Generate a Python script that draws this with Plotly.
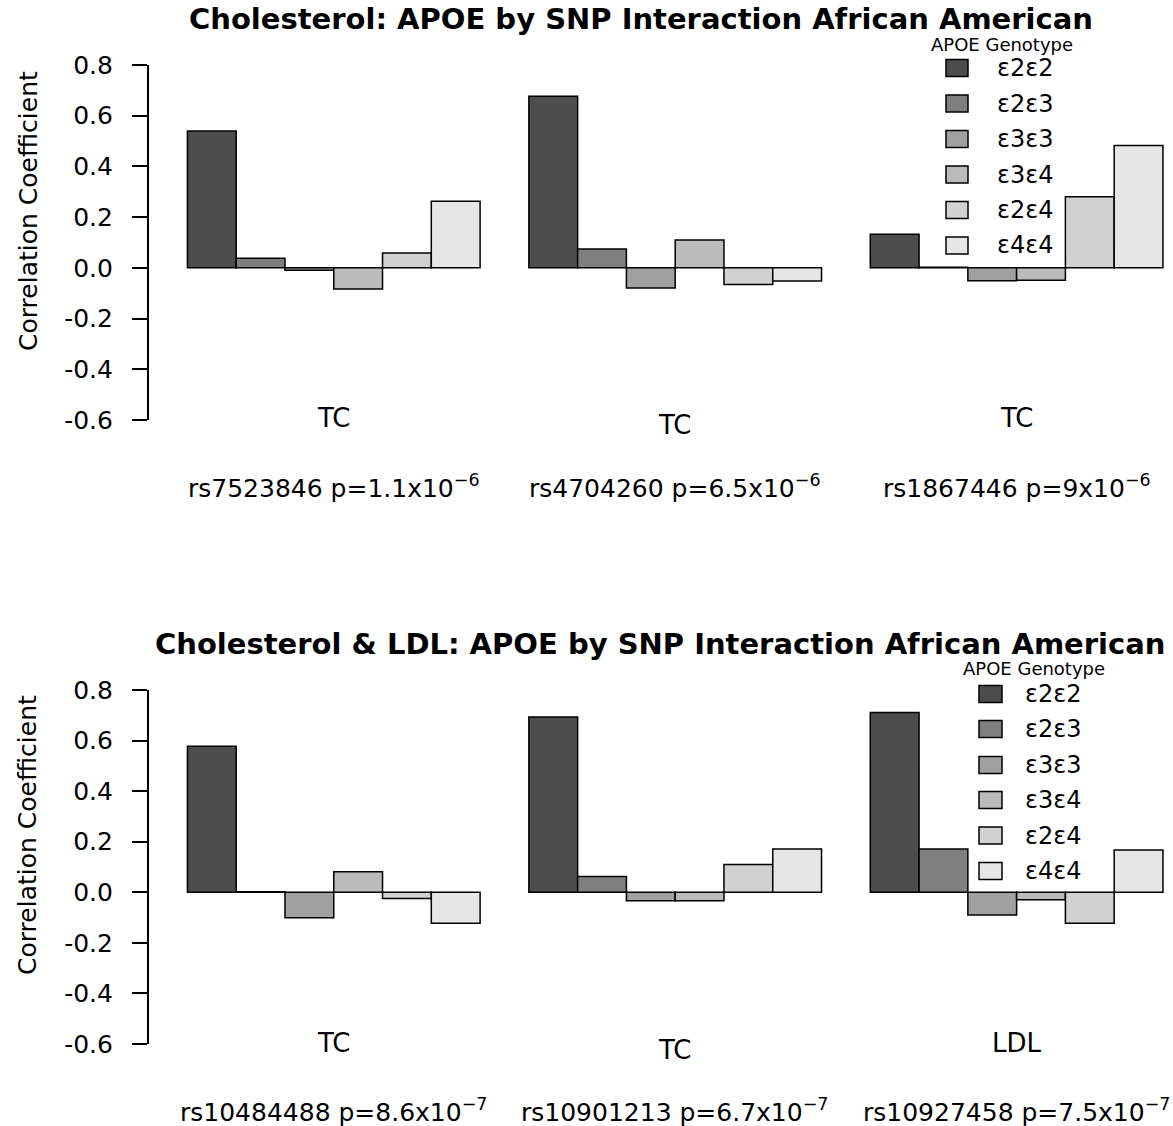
import plotly.graph_objects as go

W, H = 1173, 1126
FONT = "DejaVu Sans, Liberation Sans, Arial, sans-serif"

# ---------------- data ----------------
genotypes = ["ε2ε2", "ε2ε3", "ε3ε3", "ε3ε4", "ε2ε4", "ε4ε4"]
grey_fills = ["#4D4D4D", "#7F7F7F", "#A0A0A0", "#BBBBBB", "#D1D1D1", "#E6E6E6"]

top_title = "Cholesterol: APOE by SNP Interaction African American"
top_snps = ["rs7523846", "rs4704260", "rs1867446"]
top_traits = ["TC", "TC", "TC"]
top_pmant = ["1.1", "6.5", "9"]
top_pexp = ["−6", "−6", "−6"]
top_e2e2 = [0.540, 0.677, 0.133]
top_e2e3 = [0.038, 0.074, 0.002]
top_e3e3 = [-0.009, -0.079, -0.051]
top_e3e4 = [-0.083, 0.110, -0.049]
top_e2e4 = [0.059, -0.066, 0.280]
top_e4e4 = [0.263, -0.052, 0.483]

bot_title = "Cholesterol & LDL: APOE by SNP Interaction African American"
bot_snps = ["rs10484488", "rs10901213", "rs10927458"]
bot_traits = ["TC", "TC", "LDL"]
bot_pmant = ["8.6", "6.7", "7.5"]
bot_pexp = ["−7", "−7", "−7"]
bot_e2e2 = [0.578, 0.693, 0.711]
bot_e2e3 = [0.002, 0.062, 0.171]
bot_e3e3 = [-0.101, -0.033, -0.090]
bot_e3e4 = [0.081, -0.033, -0.030]
bot_e2e4 = [-0.025, 0.110, -0.122]
bot_e4e4 = [-0.122, 0.171, 0.167]

y_tickvals = [-0.6, -0.4, -0.2, 0.0, 0.2, 0.4, 0.6, 0.8]
y_ticktext = ["-0.6", "-0.4", "-0.2", "0.0", "0.2", "0.4", "0.6", "0.8"]
y_title = "Correlation Coefficient"
legend_title = "APOE Genotype"

top_series = [top_e2e2, top_e2e3, top_e3e3, top_e3e4, top_e2e4, top_e4e4]
bot_series = [bot_e2e2, bot_e2e3, bot_e3e3, bot_e3e4, bot_e2e4, bot_e4e4]


def fx(p):
    return p / W


def fy(p):
    return 1 - p / H


fig = go.Figure()
for i, g in enumerate(genotypes):
    fig.add_trace(go.Bar(x=top_snps, y=top_series[i], name=g, xaxis="x", yaxis="y",
                         marker=dict(color=grey_fills[i], line=dict(color="black", width=1.5)),
                         showlegend=False))
for i, g in enumerate(genotypes):
    fig.add_trace(go.Bar(x=bot_snps, y=bot_series[i], name=g, xaxis="x2", yaxis="y2",
                         marker=dict(color=grey_fills[i], line=dict(color="black", width=1.5)),
                         showlegend=False))

xdom = [fx(148.7), 1.0]
xax = dict(domain=xdom, range=[-0.542, 2.458], showticklabels=False, showline=False,
           showgrid=False, zeroline=False, ticks="", fixedrange=True)
yax_common = dict(range=[-0.6, 0.8], tickvals=y_tickvals, ticktext=y_ticktext,
                  ticks="outside", ticklen=15, tickwidth=1.5, tickcolor="black",
                  showline=True, linecolor="black", linewidth=1.5, showgrid=False,
                  zeroline=False, tickfont=dict(size=25, color="black", family=FONT),
                  ticklabelstandoff=14, automargin=False)

fig.update_layout(
    width=W, height=H, margin=dict(l=0, r=0, t=0, b=0),
    paper_bgcolor="white", plot_bgcolor="white",
    barmode="group", bargap=1 / 7, bargroupgap=0,
    font=dict(family=FONT, color="black"),
    xaxis=dict(**xax, anchor="y"),
    xaxis2=dict(**xax, anchor="y2"),
    yaxis=dict(**yax_common, domain=[fy(420), fy(65)], anchor="x"),
    yaxis2=dict(**yax_common, domain=[fy(1044), fy(690)], anchor="x2"),
    showlegend=False,
)

ann = []
shapes = []


def panel(title, tcx, tcy, xref, snps, traits, pmant, pexp, trait_y, plab_y, ytitle_y,
          leg_title_xy, box_x0, box_x1, text_x, item_ys):
    ann.append(dict(text="<b>" + title + "</b>", x=fx(tcx), y=fy(tcy), xref="paper", yref="paper",
                    showarrow=False, font=dict(size=29, family=FONT, color="black"),
                    xanchor="center", yanchor="middle"))
    ann.append(dict(text=y_title, x=fx(28), y=fy(ytitle_y), xref="paper", yref="paper",
                    textangle=-90, showarrow=False, font=dict(size=25, family=FONT, color="black"),
                    xanchor="center", yanchor="middle"))
    for i in range(len(snps)):
        ann.append(dict(text=traits[i], x=i, y=fy(trait_y[i]), xref=xref, yref="paper",
                        showarrow=False, font=dict(size=26, family=FONT, color="black"),
                        xanchor="center", yanchor="middle"))
        ann.append(dict(text=f"{snps[i]} p={pmant[i]}x10<sup>{pexp[i]}</sup>", x=i, y=fy(plab_y),
                        xref=xref, yref="paper", showarrow=False,
                        font=dict(size=25, family=FONT, color="black"),
                        xanchor="center", yanchor="middle"))
    ann.append(dict(text=legend_title, x=fx(leg_title_xy[0]), y=fy(leg_title_xy[1]), xref="paper",
                    yref="paper", showarrow=False, font=dict(size=18, family=FONT, color="black"),
                    xanchor="center", yanchor="middle", borderpad=0))
    for i, g in enumerate(genotypes):
        cy = item_ys[i]
        shapes.append(dict(type="rect", xref="paper", yref="paper",
                           x0=fx(box_x0), x1=fx(box_x1), y0=fy(cy - 8.5), y1=fy(cy + 8.5),
                           fillcolor=grey_fills[i], line=dict(color="black", width=1.5)))
        ann.append(dict(text=g, x=fx(text_x), y=fy(cy), xref="paper", yref="paper",
                        showarrow=False, font=dict(size=24, family=FONT, color="black"),
                        xanchor="left", yanchor="middle", borderpad=0))


panel(top_title, 641, 19, "x", top_snps, top_traits, top_pmant, top_pexp,
      [418, 425, 418], 486, 211, (1002, 45), 946, 968, 996,
      [68, 103.5, 139, 174.5, 210, 245.5])
panel(bot_title, 660, 644, "x2", bot_snps, bot_traits, bot_pmant, bot_pexp,
      [1043, 1050, 1043], 1110, 835, (1034, 668), 979, 1002, 1024,
      [694, 729, 765, 800, 835.5, 871])

fig.update_layout(annotations=ann, shapes=shapes)
fig.write_html("out.html", post_script="document.body.style.margin='0';",
               config={"displayModeBar": False})
